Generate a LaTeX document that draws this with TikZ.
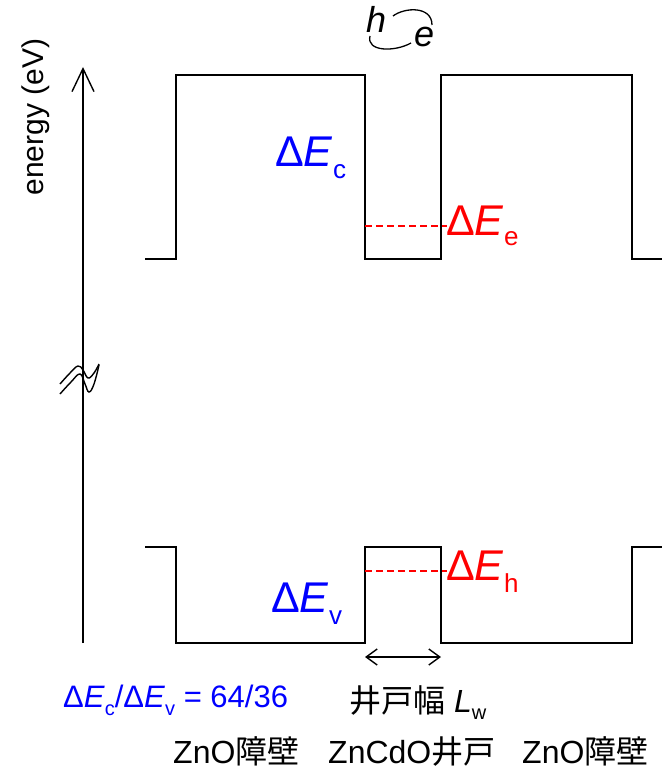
\documentclass[tikz,border=0pt]{standalone}
\usepackage{fontspec}
\setmainfont{Liberation Sans}
\newfontfamily\jp{Noto Sans CJK JP}
\usetikzlibrary{arrows.meta}
\newcommand\fs[1]{\fontsize{#1}{#1}\selectfont}
\newcommand\lowsub[3]{\raisebox{-#1pt}{\fs{#2}#3}}
\begin{document}
\begin{tikzpicture}[x=1pt,y=-1pt,
  band/.style={line width=1.7pt, line join=miter},
  lvl/.style={red, line width=1.2pt, dash pattern=on 7pt off 4pt},
  lbl/.style={inner sep=0pt, anchor=base west},
  barb/.style={line width=1.4pt}]
\useasboundingbox (0,0) rectangle (667,770);
% conduction band
\draw[band] (145,259) -- (176,259) -- (176,75) -- (365,75) -- (365,259) -- (441,259)
  -- (441,75) -- (632,75) -- (632,259) -- (662,259);
% valence band
\draw[band] (145,547) -- (176,547) -- (176,643) -- (365,643) -- (365,547) -- (441,547)
  -- (441,643) -- (632,643) -- (632,547) -- (662,547);
% energy axis
\coordinate (ax0) at (83,643);
\coordinate (ax1) at (83,67);
\draw[barb, -{Straight Barb[length=23pt,width=22pt,line width=1.4pt]}] (ax0) -- (ax1);
\node[inner sep=0pt, anchor=base, rotate=90, font=\fs{30}] (axl) at (43,117) {energy (eV)};
% break mark
\draw[line width=1.4pt] plot[smooth, tension=0.7] coordinates {(60,384) (70,373) (78,366) (83,370) (88,378) (94,373) (99,364)};
\draw[line width=1.4pt] plot[smooth, tension=0.7] coordinates {(60,394) (71,382) (80,374) (85,384) (89,392) (94,384) (99,365)};
% levels
\coordinate (el) at (365,226); \coordinate (er) at (447,226);
\coordinate (hl) at (365,571); \coordinate (hr) at (447,571);
\draw[lvl] (el) -- (er);
\draw[lvl] (hl) -- (hr);
\node[lbl, text=blue, font=\fs{43}] (dEc) at (275,167) {Δ\textit{E}\lowsub{12}{26}{c}};
\node[lbl, text=blue, font=\fs{43}] (dEv) at (271,612) {Δ\textit{E}\lowsub{12}{26}{v}};
\node[lbl, text=red, font=\fs{43}] (dEe) at (446,235) {Δ\textit{E}\lowsub{10}{26}{e}};
\node[lbl, text=red, font=\fs{43}] (dEh) at (446,580) {Δ\textit{E}\lowsub{12}{26}{h}};
% well width arrow
\coordinate (wl) at (365,657); \coordinate (wr) at (441,657);
\draw[barb, {Straight Barb[length=11pt,width=16pt,line width=1.4pt]}-{Straight Barb[length=11pt,width=16pt,line width=1.4pt]}] (wl) -- (wr);
\node[lbl, font=\fs{32}] (lw) at (349,712) {{\jp 井戸幅} \textit{L}\lowsub{7}{20}{w}};
\node[lbl, text=blue, font=\fs{31}] (ratio) at (63,707) {Δ\textit{E}\lowsub{8}{20}{c}/Δ\textit{E}\lowsub{8}{20}{v} = 64/36};
% layer labels
\node[lbl, font=\fs{32}] (b1) at (173,763) {ZnO{\jp 障壁}};
\node[lbl, font=\fs{32}] (w1) at (328,763) {ZnCdO{\jp 井戸}};
\node[lbl, font=\fs{32}] (b2) at (522,763) {ZnO{\jp 障壁}};
% exciton
\node[lbl, font=\fs{36}] (h) at (366,33) {\textit{h}};
\node[lbl, font=\fs{36}] (e) at (414,47) {\textit{e}};
\draw[line width=1.3pt] (370,36) .. controls (366,52) and (395,52) .. (411,43);
\draw[line width=1.3pt] (393,16) .. controls (405,7) and (432,6) .. (432,25);
\end{tikzpicture}
\end{document}
